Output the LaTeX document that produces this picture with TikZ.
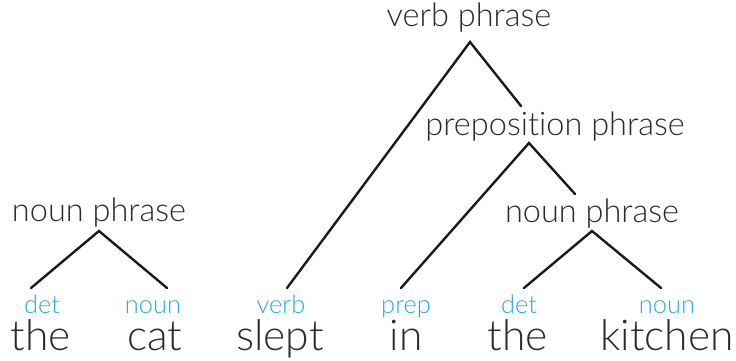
\documentclass[tikz,border=0pt]{standalone}
\usepackage{fontspec}
\setmainfont{Lato}[UprightFont=* Light, Ligatures=NoCommon]
\usetikzlibrary{calc}
\definecolor{txt}{HTML}{2B2B2B}
\definecolor{pos}{HTML}{29ABE2}
\definecolor{ln}{HTML}{1A1A1A}
\tikzset{
  phrase/.style={anchor=base, inner sep=0pt, text=txt, font=\fontsize{32.5}{32.5}\selectfont},
  tag/.style={anchor=base, inner sep=0pt, text=pos, font=\fontsize{25.4}{25.4}\selectfont},
  word/.style={anchor=base, inner sep=0pt, text=txt, font=\fontsize{42.5}{42.5}\selectfont},
  branch/.style={draw=ln, line width=2.4pt, line cap=round}
}
\begin{document}
\begin{tikzpicture}[x=1pt,y=-1pt]
\useasboundingbox (0,0) rectangle (736,361);
% phrases
\node[phrase] (vp) at (469,27) {verb phrase};
\node[phrase] (pp) at (555,135) {preposition phrase};
\node[phrase] (np1) at (99,221) {noun phrase};
\node[phrase] (np2) at (592,222) {noun phrase};
% tags
\node[tag] (det1) at (42,313) {det};
\node[tag] (noun1) at (153,313) {noun};
\node[tag] (verb) at (281,313) {verb};
\node[tag] (prep) at (406,313) {prep};
\node[tag] (det2) at (519,313) {det};
\node[tag] (noun2) at (667,313) {noun};
% words
\node[word] (w1) at (41,350) {the};
\node[word] (w2) at (155,350) {cat};
\node[word] (w3) at (280,350) {slept};
\node[word] (w4) at (406,350) {in};
\node[word] (w5) at (518,350) {the};
\node[word] (w6) at (667,350) {kitchen};
% branches
\draw[branch] ($(det1.base)+(-11,-25)$) -- ($(np1.base)+(0,10)$) -- ($(noun1.base)+(14,-25)$);
\draw[branch] ($(verb.base)+(6,-25)$) -- ($(vp.base)+(1,15)$) -- ($(pp.base)+(-34,-29)$);
\draw[branch] ($(prep.base)+(-5,-25)$) -- ($(pp.base)+(-26,8)$) -- ($(np2.base)+(-17,-28)$);
\draw[branch] ($(det2.base)+(5,-25)$) -- ($(np2.base)+(0,9)$) -- ($(noun2.base)+(-6,-25)$);
\end{tikzpicture}
\end{document}
